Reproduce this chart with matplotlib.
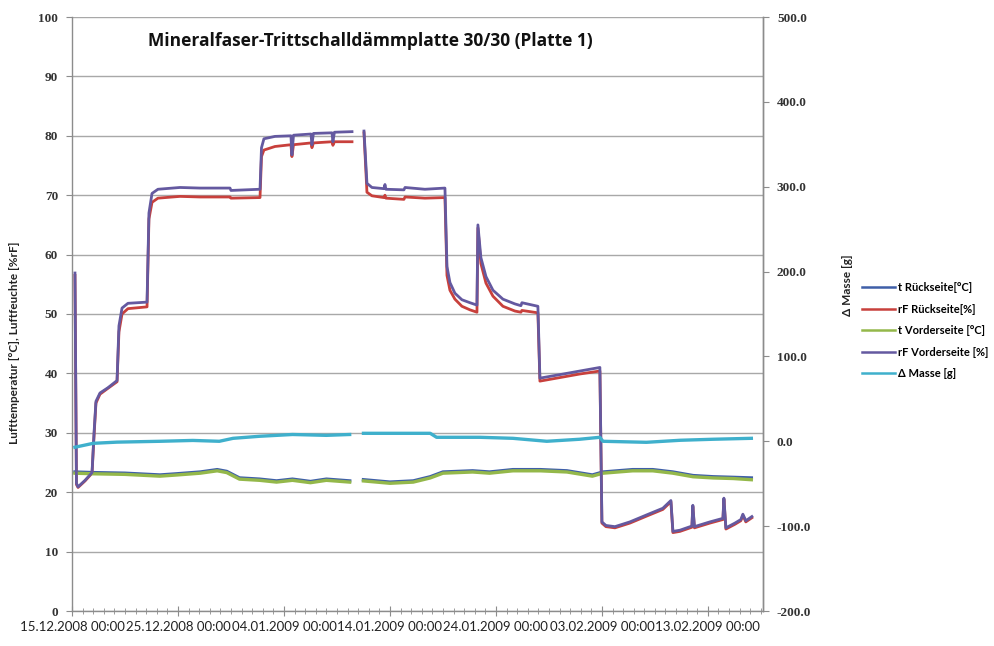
import numpy as np
import matplotlib
matplotlib.use("Agg")
import matplotlib.pyplot as plt
from matplotlib.ticker import MultipleLocator, FixedLocator, FuncFormatter

nan = np.nan

# ---------------- data (days since 15.12.2008 00:00) ----------------
rf_time = [0.28, 0.42, 0.57, 1.23, 1.89, 2.08, 2.26, 2.64, 3.40, 4.25, 4.43, 4.72, 5.28, 7.08,
           7.26, 7.55, 8.11, 10.19, 12.08, 14.91, 15.0, 17.74, 17.88, 18.11, 19.15, 20.66,
           20.75, 20.90, 22.55, 22.64, 22.78, 24.53, 24.62, 24.76, 26.42, 26.9, 27.55, 27.83,
           28.30, 29.43, 29.53, 29.62, 31.32, 31.42, 33.30, 35.19, 35.38, 35.66, 36.13, 36.79,
           37.55, 38.21, 38.30, 38.58, 39.06, 39.72, 40.66, 41.79, 42.36, 42.45, 43.96, 44.15,
           46.04, 47.92, 49.81, 50.0, 50.38, 51.23, 52.64, 54.25, 55.75, 56.51, 56.70, 57.36,
           58.49, 58.58, 58.73, 60.19, 61.42, 61.51, 61.70, 62.55, 63.11, 63.30, 63.58, 64.15]
rf_vorder = [56.9, 21.5, 20.9, 22.0, 23.3, 30.0, 35.3, 36.7, 37.6, 38.8, 48.0, 51.0, 51.8, 52.0,
             67.0, 70.3, 71.0, 71.3, 71.2, 71.2, 70.8, 71.0, 78.0, 79.5, 79.9, 80.0,
             76.8, 80.1, 80.3, 78.5, 80.4, 80.5, 79.0, 80.6, 80.7, nan, 80.8, 72.0,
             71.3, 71.1, 71.8, 71.0, 70.9, 71.3, 71.0, 71.2, 58.0, 55.3, 53.5, 52.4,
             51.9, 51.5, 65.0, 59.5, 56.3, 54.0, 52.5, 51.7, 51.4, 51.9, 51.3, 39.2,
             39.8, 40.4, 41.0, 15.0, 14.4, 14.2, 15.0, 16.2, 17.3, 18.6, 13.4, 13.6,
             14.3, 17.8, 14.2, 15.0, 15.6, 19.0, 14.0, 14.8, 15.4, 16.3, 15.2, 15.9]
rf_rueck = [56.5, 21.3, 20.8, 21.9, 23.2, 29.5, 35.0, 36.5, 37.5, 38.6, 47.0, 50.0, 50.9, 51.2,
            66.0, 68.8, 69.5, 69.8, 69.7, 69.7, 69.5, 69.6, 76.5, 77.6, 78.2, 78.5,
            76.5, 78.5, 78.8, 78.0, 78.8, 79.0, 78.4, 79.0, 79.0, nan, 80.5, 70.5,
            69.9, 69.6, 70.0, 69.5, 69.3, 69.7, 69.5, 69.6, 56.5, 54.0, 52.5, 51.3,
            50.7, 50.3, 64.5, 58.5, 55.2, 53.0, 51.3, 50.5, 50.3, 50.6, 50.2, 38.7,
            39.3, 39.9, 40.4, 14.8, 14.2, 14.0, 14.8, 16.0, 17.1, 18.4, 13.2, 13.4,
            14.1, 17.6, 14.0, 14.8, 15.4, 18.8, 13.8, 14.6, 15.2, 16.1, 15.0, 15.7]

t_time = [0.28, 2.0, 5.0, 8.3, 9.9, 12.1, 13.7, 14.6, 15.8, 17.7, 19.3, 20.8, 22.5, 24.0, 26.2,
          26.9, 27.5, 30.0, 32.2, 33.8, 35.0, 37.8, 39.4, 41.6, 44.2, 46.7, 49.1, 50.1, 52.9,
          54.8, 56.7, 58.6, 60.5, 62.4, 64.1]
t_vorder = [23.2, 23.1, 23.0, 22.7, 22.9, 23.2, 23.6, 23.3, 22.2, 22.0, 21.7, 22.0, 21.6, 22.0, 21.7,
            nan, 21.9, 21.5, 21.7, 22.4, 23.2, 23.4, 23.2, 23.6, 23.6, 23.4, 22.7, 23.2, 23.6,
            23.6, 23.2, 22.6, 22.4, 22.3, 22.1]
t_rueck = [23.4, 23.3, 23.2, 22.9, 23.1, 23.4, 23.8, 23.5, 22.4, 22.2, 21.9, 22.2, 21.8, 22.2, 21.9,
           nan, 22.1, 21.7, 21.9, 22.6, 23.4, 23.6, 23.4, 23.8, 23.8, 23.6, 22.9, 23.4, 23.8,
           23.8, 23.4, 22.8, 22.6, 22.5, 22.4]

m_time = [0.28, 2.0, 4.25, 8.3, 11.4, 13.9, 15.2, 17.7, 20.8, 24.0, 26.2, 26.9, 27.5, 30.0, 33.8,
          34.4, 38.5, 41.6, 44.8, 47.9, 49.8, 50.1, 54.2, 57.4, 60.5, 64.1]
masse = [-7.0, -2.4, -1.0, 0.0, 1.0, 0.0, 3.5, 5.9, 8.0, 7.0, 8.0, nan, 9.4, 9.4, 9.4,
         4.7, 4.7, 3.5, 0.0, 2.4, 4.7, 0.0, -1.2, 1.2, 2.4, 3.5]

x_tick_days = [0, 10, 20, 30, 40, 50, 60]
x_tick_labels = ["15.12.2008 00:00", "25.12.2008 00:00", "04.01.2009 00:00", "14.01.2009 00:00",
                 "24.01.2009 00:00", "03.02.2009 00:00", "13.02.2009 00:00"]

labels = ["t Rückseite[°C]", "rF Rückseite[%]", "t Vorderseite [°C]", "rF Vorderseite [%]", "Δ Masse [g]"]
colors = ["#3F5FA8", "#C8403C", "#94B84A", "#6459A0", "#3FB0CC"]

# ---------------- figure ----------------
W, H = 995, 646
fig = plt.figure(figsize=(W / 100, H / 100), dpi=100)
fig.patch.set_facecolor("white")
L, R, T, B = 72, 763, 17, 611
ax = fig.add_axes([L / W, 1 - B / H, (R - L) / W, (B - T) / H])
ax2 = ax.twinx()

lw_t = 2.4
lw_rf = 2.0
h1, = ax.plot(t_time, t_rueck, color=colors[0], lw=lw_t, label=labels[0], zorder=3)
h2, = ax.plot(rf_time, rf_rueck, color=colors[1], lw=lw_rf, label=labels[1], zorder=3)
h3, = ax.plot(t_time, t_vorder, color=colors[2], lw=lw_t, label=labels[2], zorder=3)
h4, = ax.plot(rf_time, rf_vorder, color=colors[3], lw=lw_rf, label=labels[3], zorder=3)
h5, = ax2.plot(m_time, masse, color=colors[4], lw=lw_t, label=labels[4], zorder=3)

ax.set_xlim(0, 65.2)
ax.set_ylim(0, 100)
ax2.set_ylim(-200, 500)

grid_c = "#A8A8A8"
ax.yaxis.set_major_locator(MultipleLocator(10))
ax.grid(axis="y", color=grid_c, lw=1.0, zorder=0)
ax.set_axisbelow(True)
ax2.yaxis.set_major_locator(MultipleLocator(100))
ax2.yaxis.set_major_formatter(FuncFormatter(lambda v, p: f"{v:.1f}"))

ax.xaxis.set_major_locator(FixedLocator(x_tick_days))
ax.set_xticklabels(x_tick_labels)
ax.xaxis.set_minor_locator(MultipleLocator(1))

spine_c = "#8C8C8C"
for a in (ax, ax2):
    a.spines["top"].set_visible(False)
    for s in ("left", "right", "bottom"):
        a.spines[s].set_color(spine_c)
        a.spines[s].set_linewidth(1.0)
ax2.spines["left"].set_visible(False)
ax2.spines["bottom"].set_visible(False)

ax.tick_params(axis="y", which="major", direction="out", length=4, color=spine_c, pad=6,
               labelcolor="#333333")
ax2.tick_params(axis="y", which="major", direction="out", length=4, color=spine_c, pad=6,
                labelcolor="#333333")
ax.tick_params(axis="x", which="major", direction="inout", length=7, color=spine_c, pad=4,
               labelcolor="#222222")
ax.tick_params(axis="x", which="minor", direction="inout", length=5, color=spine_c)
for lab in ax.get_yticklabels() + ax2.get_yticklabels():
    lab.set_fontfamily(["Liberation Serif", "DejaVu Serif"])
    lab.set_fontsize(9.5)
    lab.set_fontweight("bold")
for lab in ax.get_xticklabels():
    lab.set_fontfamily(["Lato", "DejaVu Sans"])
    lab.set_fontsize(9.5)

ax.set_ylabel("Lufttemperatur [°C], Luftfeuchte [%rF]", fontsize=8.5, fontweight="bold",
              family=["Lato", "DejaVu Sans"], color="#222222")
ax.yaxis.set_label_coords((20 - L) / (R - L), (B - 343) / (B - T))
ax2.set_ylabel("Δ Masse [g]", fontsize=8.5, fontweight="bold",
               family=["Lato", "DejaVu Sans"], color="#222222")
ax2.yaxis.set_label_coords((842 - L) / (R - L), (B - 285) / (B - T))

fig.text(370 / W, 1 - 41 / H, "Mineralfaser-Trittschalldämmplatte 30/30 (Platte 1)",
         ha="center", va="center", fontsize=12.5, fontweight="bold",
         family=["Open Sans", "DejaVu Sans"], color="#111111")

leg = fig.legend(handles=[h1, h2, h3, h4, h5], labels=labels, loc="upper left",
                 bbox_to_anchor=(852 / W, 1 - 272 / H), frameon=False,
                 prop=dict(family=["Lato", "DejaVu Sans"], size=8, weight="bold"),
                 handlelength=3.0, handletextpad=0.2, labelspacing=0.95)
for line in leg.get_lines():
    line.set_linewidth(1.8)

fig.savefig("out.png", dpi=100, facecolor="white")
